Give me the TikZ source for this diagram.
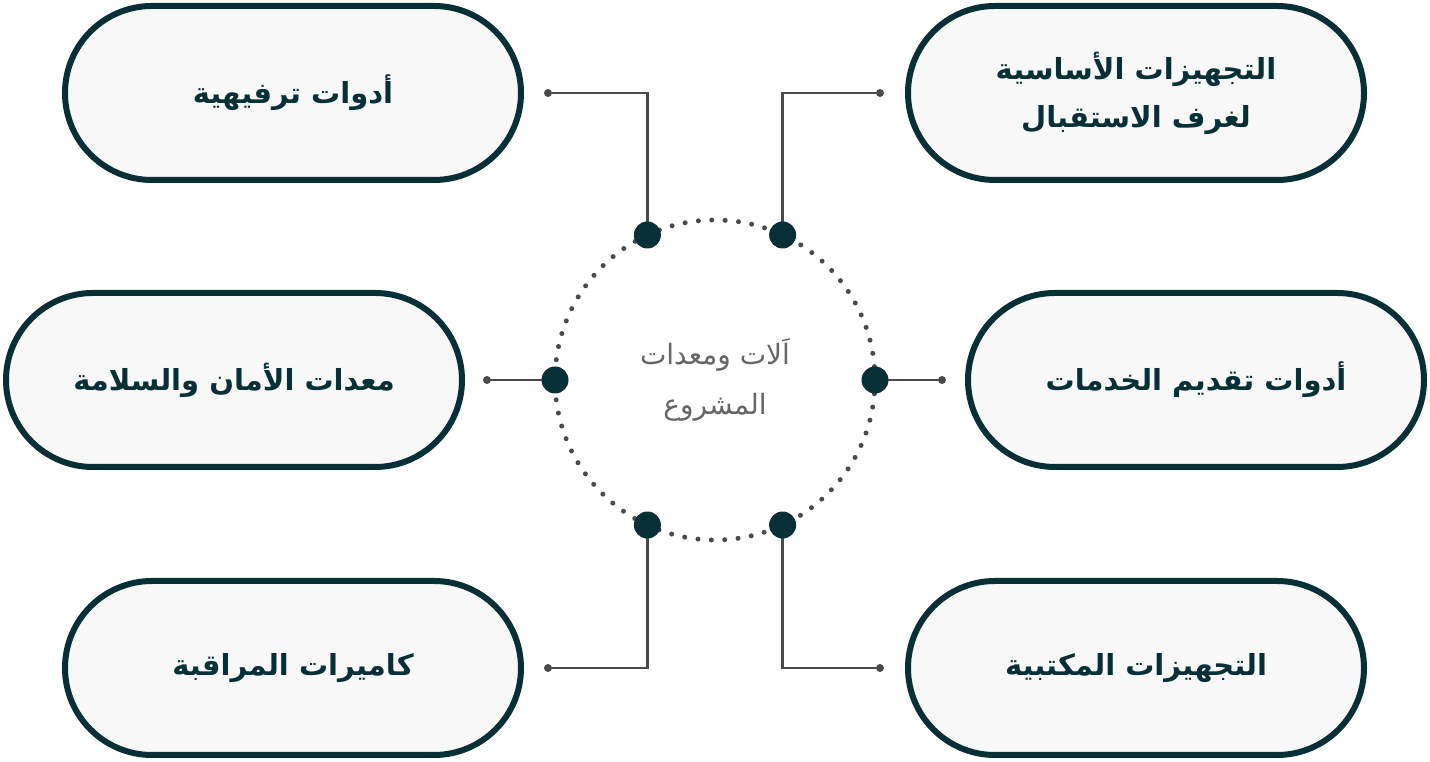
\documentclass[tikz,border=0pt]{standalone}
\usepackage{fontspec}
\newfontfamily\arabicfont[Script=Arabic]{DejaVu Sans}
\TeXXeTstate=1
\definecolor{darkteal}{HTML}{062F36}
\definecolor{pillfill}{HTML}{F8F8F8}
\definecolor{wire}{HTML}{4A4A4A}
\definecolor{hubtext}{HTML}{666666}
\tikzset{
  pill/.style={draw=darkteal, line width=6pt, fill=pillfill, rectangle,
    rounded corners=87pt, minimum width=456pt, minimum height=174pt,
    align=center, text=darkteal, font=\arabicfont\bfseries\fontsize{29}{48}\selectfont},
  knob/.style={circle, fill=darkteal, minimum size=27pt, inner sep=0pt},
  tip/.style={circle, fill=wire, minimum size=8pt, inner sep=0pt},
  wire/.style={draw=wire, line width=2.5pt}
}
\begin{document}
\begin{tikzpicture}[x=1pt,y=1pt]
    \useasboundingbox (0,0) rectangle (1430,762);
    % boxes
    \node[pill] (fun) at (293,669) {\beginR أدوات ترفيهية\endR};
    \node[pill] (recep) at (1136,669) {\beginR التجهيزات الأساسية\endR\\ \beginR لغرف الاستقبال\endR};
    \node[pill] (safety) at (234,382) {\beginR معدات الأمان والسلامة\endR};
    \node[pill] (serve) at (1196,382) {\beginR أدوات تقديم الخدمات\endR};
    \node[pill] (cams) at (293,94) {\beginR كاميرات المراقبة\endR};
    \node[pill] (office) at (1136,94) {\beginR التجهيزات المكتبية\endR};
    % center circle
    \node[circle, minimum size=320pt, inner sep=0pt, outer sep=0pt, draw=wire,
      line width=5pt, line cap=round, dash pattern=on 0pt off 13.4pt,
      align=center, text=hubtext, font=\arabicfont\fontsize{28}{50}\selectfont]
      (hub) at (715,382) {\beginR اَلات ومعدات\endR\\ \beginR المشروع\endR};
    % end points
    \node[tip] (tfun) at (548,669) {};
    \node[tip] (trecep) at (880,669) {};
    \node[tip] (tsafety) at (487,382) {};
    \node[tip] (tserve) at (942,382) {};
    \node[tip] (tcams) at (548,94) {};
    \node[tip] (toffice) at (880,94) {};
    % wires
    \draw[wire] (hub.115) |- (tfun);
    \draw[wire] (hub.65) |- (trecep);
    \draw[wire] (hub.180) -- (tsafety);
    \draw[wire] (hub.0) -- (tserve);
    \draw[wire] (hub.245) |- (tcams);
    \draw[wire] (hub.295) |- (toffice);
    % knobs on the circle
    \foreach \a/\n in {115/kfun,65/krecep,180/ksafety,0/kserve,245/kcams,295/koffice}
        \node[knob] (\n) at (hub.\a) {};
\end{tikzpicture}
\end{document}
